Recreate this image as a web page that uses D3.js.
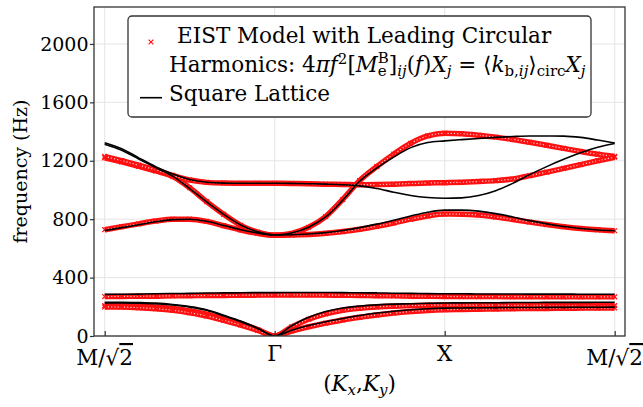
<!DOCTYPE html>
<html>
<head>
<meta charset="utf-8">
<script src="https://cdn.jsdelivr.net/npm/d3@7"></script>
<style>
  body { margin: 0; background: #fff; }
  svg { display: block; }
  text { font-family: "DejaVu Serif", serif; fill: #000; white-space: pre; }
</style>
</head>
<body>
<script>
// path coordinate along M/sqrt2 -> Gamma -> X -> M/sqrt2 (one unit per segment)
const kPoints = [0, 0.1, 0.2, 0.3, 0.4, 0.5, 0.6, 0.7, 0.8, 0.9, 1,
  1.1, 1.2, 1.3, 1.4, 1.5, 1.6, 1.7, 1.8, 1.9, 2,
  2.1, 2.2, 2.3, 2.4, 2.5, 2.6, 2.7, 2.8, 2.9, 3];
const kTicks = [0, 1, 2, 3];
const kLabels = ["M/√2", "Γ", "X", "M/√2"];
const freqTicks = [0, 400, 800, 1200, 1600, 2000];

// Square lattice bands (Hz)
const square1 = [285, 286, 287, 289, 291, 292, 294, 295, 296, 297, 297,
  298, 298, 298, 297, 296, 295, 293, 292, 290, 289,
  289, 288, 288, 288, 287, 287, 287, 286, 286, 286];
const square2 = [231, 231, 229, 225, 216, 202, 180, 142, 102, 54, 0,
  70, 128, 168, 192, 205, 213, 218, 221, 224, 226,
  227, 228, 228, 229, 229, 230, 230, 230, 231, 231];
const square3 = [227, 227, 225, 221, 212, 198, 176, 138, 98, 52, 0,
  40, 72, 98, 120, 140, 157, 170, 180, 187, 191,
  192, 193, 194, 195, 195, 196, 196, 197, 197, 198];
const square4 = [722, 742, 762, 782, 797, 800, 786, 757, 728, 705, 692,
  693, 698, 708, 723, 742, 766, 793, 822, 848, 862,
  862, 855, 838, 815, 790, 768, 750, 736, 726, 721];
const square5 = [1313, 1272, 1212, 1153, 1095, 1010, 918, 833, 760, 713, 692,
  705, 745, 815, 930, 1060, 1150, 1225, 1290, 1325, 1336,
  1345, 1353, 1360, 1366, 1370, 1370, 1369, 1360, 1342, 1322];
const square6 = [1324, 1283, 1220, 1160, 1110, 1072, 1053, 1047, 1046, 1046, 1046,
  1045, 1043, 1040, 1036, 1028, 1010, 985, 962, 948, 943,
  946, 962, 995, 1045, 1105, 1160, 1210, 1255, 1292, 1318];

// EIST model bands (Hz)
const eist1 = [270, 271, 272, 273, 275, 276, 277, 278, 279, 280, 281,
  281, 281, 280, 279, 278, 276, 275, 273, 272, 271,
  270, 270, 270, 269, 269, 269, 268, 268, 268, 268];
const eist2 = [208, 207, 204, 198, 188, 172, 150, 118, 84, 44, 0,
  62, 115, 152, 176, 190, 199, 204, 208, 210, 212,
  212, 211, 211, 210, 210, 209, 209, 208, 208, 208];
const eist3 = [199, 198, 194, 187, 176, 159, 137, 107, 75, 39, 0,
  34, 63, 88, 110, 128, 144, 157, 167, 175, 180,
  182, 184, 185, 187, 188, 189, 190, 191, 191, 192];
const eist4 = [728, 748, 768, 787, 800, 800, 785, 755, 726, 703, 690,
  691, 695, 703, 715, 731, 751, 774, 800, 822, 835,
  834, 828, 815, 798, 780, 763, 748, 736, 727, 721];
const eist5 = [1220, 1192, 1162, 1130, 1092, 1015, 920, 833, 758, 711, 690,
  703, 745, 818, 935, 1065, 1160, 1245, 1320, 1370, 1388,
  1385, 1375, 1362, 1346, 1327, 1306, 1285, 1264, 1245, 1230];
const eist6 = [1230, 1201, 1170, 1137, 1100, 1068, 1052, 1047, 1046, 1046, 1046,
  1045, 1043, 1040, 1038, 1036, 1037, 1040, 1044, 1048, 1050,
  1053, 1058, 1064, 1075, 1098, 1122, 1148, 1174, 1200, 1224];

const squareBands = [square1, square2, square3, square4, square5, square6];
const eistBands = [eist1, eist2, eist3, eist4, eist5, eist6];

const width = 643, height = 407;
const frame = { left: 94, right: 625, top: 7, bottom: 336 };
const fs = 19;      // tick labels / y title
const fsL = 21.5;   // legend, x labels

const svg = d3.select('body').append('svg')
  .attr('width', width)
  .attr('height', height);

const x = d3.scaleLinear().domain([0, 3]).range([104.7, 614.7]);
const y = d3.scaleLinear().domain([0, 2253]).range([frame.bottom, frame.top]);

// grid
svg.append('g').selectAll('line.h')
  .data(freqTicks).join('line')
  .attr('x1', frame.left).attr('x2', frame.right)
  .attr('y1', d => y(d)).attr('y2', d => y(d))
  .attr('stroke', '#e4e4e4').attr('stroke-width', 1);
svg.append('g').selectAll('line.v')
  .data(kTicks).join('line')
  .attr('x1', d => x(d)).attr('x2', d => x(d))
  .attr('y1', frame.top).attr('y2', frame.bottom)
  .attr('stroke', '#e4e4e4').attr('stroke-width', 1);

svg.append('clipPath').attr('id', 'clip')
  .append('rect')
  .attr('x', frame.left).attr('y', frame.top)
  .attr('width', frame.right - frame.left).attr('height', frame.bottom - frame.top);

const plot = svg.append('g').attr('clip-path', 'url(#clip)');

const line = d3.line()
  .x((d, i) => x(kPoints[i]))
  .y(d => y(d))
  .curve(d3.curveMonotoneX);

const red = '#ff1010';
const cross = 'M-2.4,-2.4L2.4,2.4M-2.4,2.4L2.4,-2.4';

// EIST model: dense red cross markers -> drawn as a textured band plus crosses
eistBands.forEach(band => {
  plot.append('path')
    .attr('d', line(band))
    .attr('fill', 'none')
    .attr('stroke', red)
    .attr('stroke-width', 5.5);
  plot.append('path')
    .attr('d', line(band))
    .attr('fill', 'none')
    .attr('stroke', '#fff')
    .attr('stroke-opacity', 0.8)
    .attr('stroke-width', 1.2)
    .attr('stroke-dasharray', '1.2 2');
  plot.append('g').selectAll('path')
    .data(band).join('path')
    .attr('transform', (d, i) => `translate(${x(kPoints[i])},${y(d)})`)
    .attr('d', cross)
    .attr('stroke', red)
    .attr('stroke-width', 1.2);
});

// Square lattice lines
squareBands.forEach(band => {
  plot.append('path')
    .attr('d', line(band))
    .attr('fill', 'none')
    .attr('stroke', '#000')
    .attr('stroke-width', 1.6);
});

// frame
svg.append('rect')
  .attr('x', frame.left).attr('y', frame.top)
  .attr('width', frame.right - frame.left).attr('height', frame.bottom - frame.top)
  .attr('fill', 'none').attr('stroke', '#333').attr('stroke-width', 1.3);

// y axis
const yAxis = svg.append('g')
  .attr('transform', `translate(${frame.left},0)`)
  .call(d3.axisLeft(y).tickValues(freqTicks).tickSize(4).tickPadding(1.5).tickFormat(d3.format('d')));
yAxis.select('.domain').remove();
yAxis.selectAll('line').attr('stroke', '#333').attr('stroke-width', 1.2);
yAxis.selectAll('text').attr('font-size', fs).attr('font-family', '"DejaVu Serif", serif');

// x axis (ticks point inward)
const xAxis = svg.append('g')
  .attr('transform', `translate(0,${frame.bottom})`)
  .call(d3.axisBottom(x).tickValues(kTicks).tickSize(-5).tickFormat(''));
xAxis.select('.domain').remove();
xAxis.selectAll('line').attr('stroke', '#333').attr('stroke-width', 1.2);

kTicks.forEach((k, i) => {
  const lab = kLabels[i];
  const t = svg.append('text')
    .attr('x', x(k))
    .attr('y', lab === 'Γ' || lab === 'X' ? 361 : 365)
    .attr('text-anchor', 'middle')
    .attr('font-size', fsL);
  if (lab.includes('√')) {
    t.append('tspan').text('M/√');
    t.append('tspan').style('text-decoration', 'overline').text('2');
  } else {
    t.text(lab);
  }
});

// axis titles
const xt = svg.append('text')
  .attr('x', (frame.left + frame.right) / 2)
  .attr('y', 391)
  .attr('text-anchor', 'middle')
  .attr('font-size', fsL);
xt.append('tspan').text('(');
xt.append('tspan').attr('font-style', 'italic').text('K');
xt.append('tspan').attr('font-style', 'italic').attr('font-size', 15).attr('dy', 4).text('x');
xt.append('tspan').attr('dy', -4).text(',');
xt.append('tspan').attr('font-style', 'italic').text('K');
xt.append('tspan').attr('font-style', 'italic').attr('font-size', 15).attr('dy', 4).text('y');
xt.append('tspan').attr('dy', -4).text(')');

svg.append('text')
  .attr('transform', `translate(27,${(frame.top + frame.bottom) / 2}) rotate(-90)`)
  .attr('text-anchor', 'middle')
  .attr('font-size', fs)
  .text('frequency (Hz)');

// legend
const legend = svg.append('g');
legend.append('rect')
  .attr('x', 128).attr('y', 16)
  .attr('width', 463).attr('height', 101)
  .attr('rx', 4)
  .attr('fill', '#fff')
  .attr('stroke', '#333').attr('stroke-width', 1.3);
legend.append('path')
  .attr('transform', 'translate(151,42)')
  .attr('d', cross)
  .attr('stroke', red).attr('stroke-width', 1.2);
legend.append('line')
  .attr('x1', 140).attr('x2', 162).attr('y1', 97.7).attr('y2', 97.7)
  .attr('stroke', '#000').attr('stroke-width', 1.6);

legend.append('text')
  .attr('x', 177).attr('y', 43)
  .attr('font-size', fsL)
  .text('EIST Model with Leading Circular');

// rich text with sub/superscripts, pieces placed one after another
function richText(g, x0, base, parts) {
  let cx = x0, held = 0;
  parts.forEach(p => {
    const t = g.append('text')
      .attr('x', cx)
      .attr('y', base + (p.dy || 0))
      .attr('font-size', p.s || fsL)
      .attr('font-style', p.i ? 'italic' : 'normal')
      .text(p.t);
    const w = t.node().getComputedTextLength();
    if (p.hold) { held = w; }
    else { cx += Math.max(w, held); held = 0; }
  });
}
const sub = 15;
richText(legend, 169, 72, [
  { t: 'Harmonics: 4' },
  { t: 'πf', i: true },
  { t: '2', s: sub, dy: -8 },
  { t: '[' },
  { t: 'M', i: true },
  { t: 'B', s: sub, dy: -9, hold: true },
  { t: 'e', s: sub, dy: 4 },
  { t: ']' },
  { t: 'ij', s: sub, dy: 4, i: true },
  { t: '(' },
  { t: 'f', i: true },
  { t: ')' },
  { t: 'X', i: true },
  { t: 'j', s: sub, dy: 4, i: true },
  { t: ' = ⟨' },
  { t: 'k', i: true },
  { t: 'b,', s: sub, dy: 4 },
  { t: 'ij', s: sub, dy: 4, i: true },
  { t: '⟩' },
  { t: 'circ', s: sub, dy: 4 },
  { t: 'X', i: true },
  { t: 'j', s: sub, dy: 4, i: true }
]);

legend.append('text')
  .attr('x', 169).attr('y', 101)
  .attr('font-size', fsL)
  .text('Square Lattice');
</script>
</body>
</html>
